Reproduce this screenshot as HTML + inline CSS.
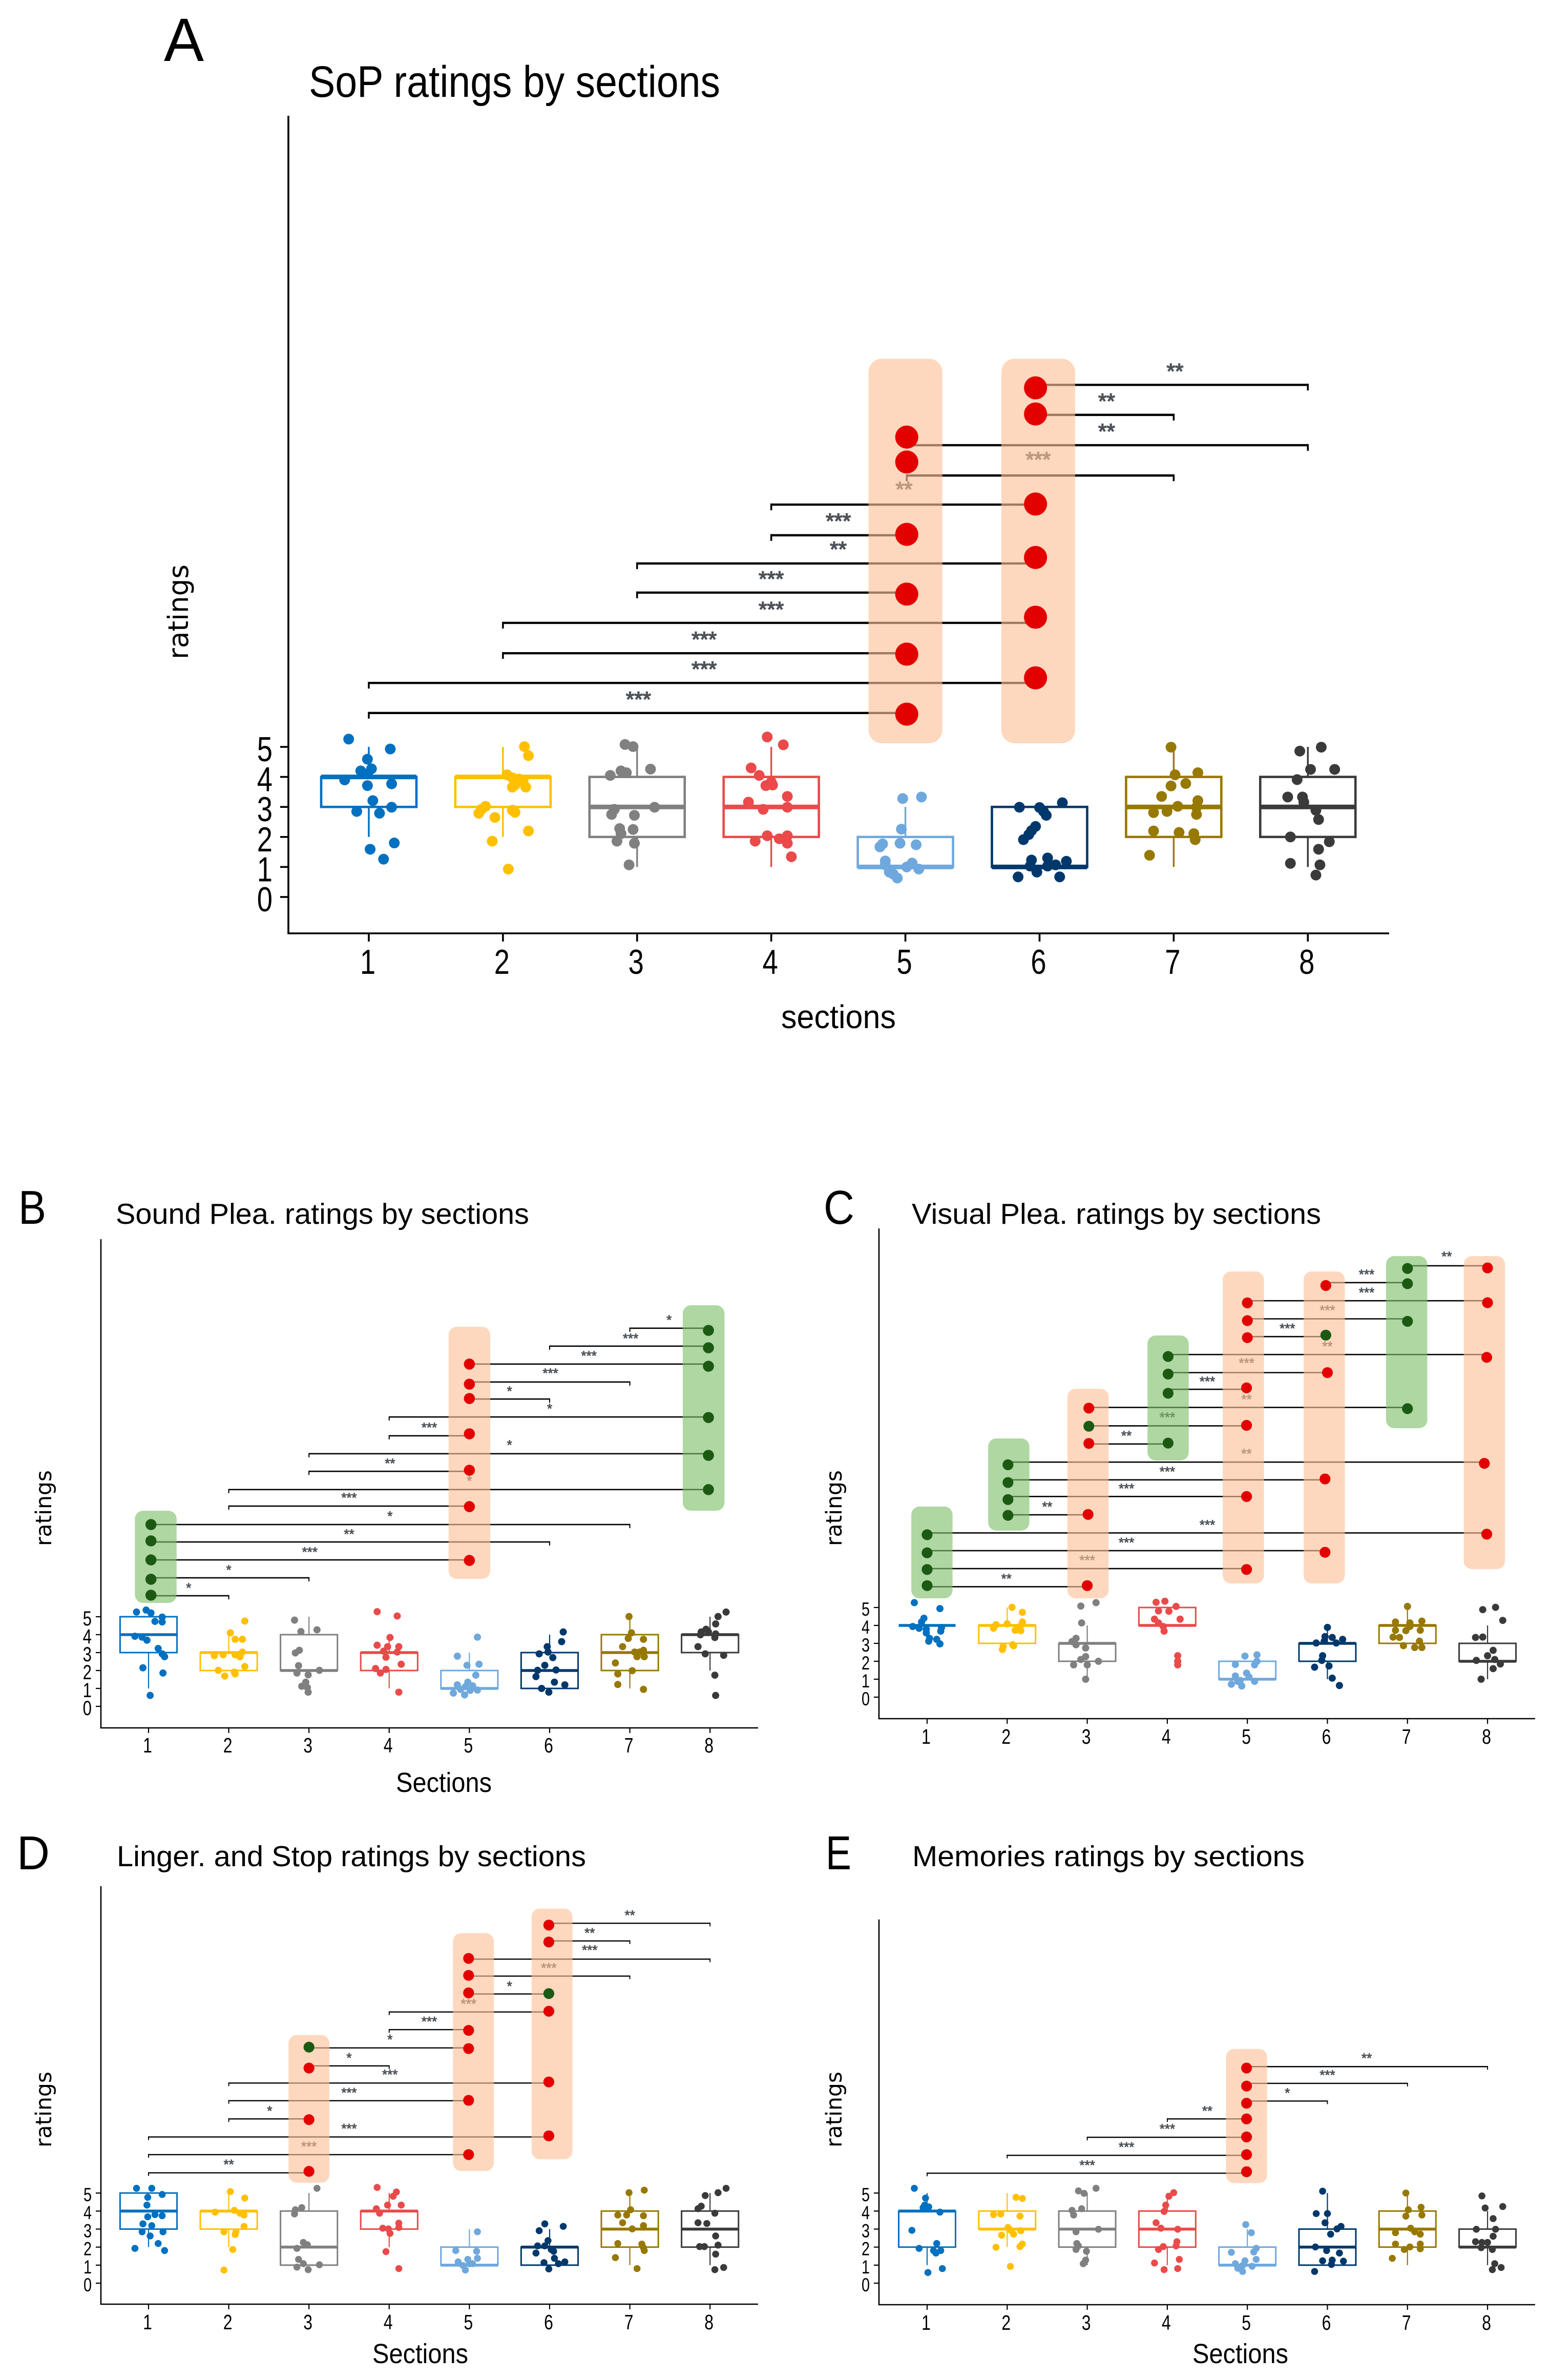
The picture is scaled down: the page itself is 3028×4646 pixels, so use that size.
<!DOCTYPE html>
<html lang="en">
<head>
<meta charset="utf-8">
<title>Ratings by sections</title>
<style>
html,body{margin:0;padding:0;background:#fff;}
svg{display:block;}
text{font-family:"Liberation Sans",sans-serif;fill:#000;}
.dj{font-family:"DejaVu Sans",sans-serif;}
</style>
</head>
<body>
<svg id="figure" xmlns="http://www.w3.org/2000/svg" width="3028" height="4646" viewBox="0 0 3028 4646">
<rect width="3028" height="4646" fill="#fff"/>

<text x="320" y="119" font-size="120" textLength="78" lengthAdjust="spacingAndGlyphs">A</text>
<text x="603" y="189" font-size="86" textLength="803" lengthAdjust="spacingAndGlyphs">SoP ratings by sections</text>
<text class="dj" transform="translate(367,1287) rotate(-90)" font-size="54" textLength="185" lengthAdjust="spacingAndGlyphs">ratings</text>
<text x="1525" y="2007" font-size="64" textLength="224" lengthAdjust="spacingAndGlyphs">sections</text>

<text x="36" y="2389" font-size="93" textLength="54" lengthAdjust="spacingAndGlyphs">B</text>
<text x="226" y="2389" font-size="57" textLength="807" lengthAdjust="spacingAndGlyphs">Sound Plea. ratings by sections</text>
<text class="dj" transform="translate(100,3018) rotate(-90)" font-size="43" textLength="148" lengthAdjust="spacingAndGlyphs">ratings</text>
<text x="773" y="3498" font-size="54" textLength="187" lengthAdjust="spacingAndGlyphs">Sections</text>

<text x="1608" y="2389" font-size="93" textLength="60" lengthAdjust="spacingAndGlyphs">C</text>
<text x="1780" y="2389" font-size="57" textLength="799" lengthAdjust="spacingAndGlyphs">Visual Plea. ratings by sections</text>
<text class="dj" transform="translate(1643,3018) rotate(-90)" font-size="43" textLength="148" lengthAdjust="spacingAndGlyphs">ratings</text>

<text x="33" y="3649" font-size="93" textLength="64" lengthAdjust="spacingAndGlyphs">D</text>
<text x="228" y="3643" font-size="57" textLength="916" lengthAdjust="spacingAndGlyphs">Linger. and Stop ratings by sections</text>
<text class="dj" transform="translate(100,4192) rotate(-90)" font-size="43" textLength="148" lengthAdjust="spacingAndGlyphs">ratings</text>
<text x="727" y="4613" font-size="54" textLength="187" lengthAdjust="spacingAndGlyphs">Sections</text>

<text x="1612" y="3649" font-size="93" textLength="50" lengthAdjust="spacingAndGlyphs">E</text>
<text x="1781" y="3643" font-size="57" textLength="766" lengthAdjust="spacingAndGlyphs">Memories ratings by sections</text>
<text class="dj" transform="translate(1643,4192) rotate(-90)" font-size="43" textLength="148" lengthAdjust="spacingAndGlyphs">ratings</text>
<text x="2328" y="4613" font-size="54" textLength="187" lengthAdjust="spacingAndGlyphs">Sections</text>
</svg>

<script>
/* ---------- shared categories and ticks ---------- */
const sectionLabels = ['1','2','3','4','5','6','7','8'];
const ratingTicks = [0,1,2,3,4,5];

/* Box stats per section: [whisker low, q1, median, q3, whisker high]
   Points per section: [horizontal jitter in section units, rating]
   Brackets: [from section, to section, level, drop at start, drop at end]
   Dots: [section, level, significance direction]
   Bands: [section, top level, bottom level, kind]
   Stars: [section, level, label] */

/* ---------- panel A ---------- */
const panelABoxes = [[2,3,4,4,5],[2,3,4,4,5],[1,2,3,4,5],[1,2,3,4,5],[1,1,1,2,3],[1,1,1,3,3],[1,2,3,4,5],[1,2,3,4,5]];
const panelAPoints = [
[[-.15,5.26],[.16,4.93],[-.01,4.59],[-.06,4.2],[.02,4.27],[-.01,4.1],[-.18,3.9],[-.01,3.71],[.17,3.77],[.03,3.21],[-.09,2.85],[.17,2.99],[.08,2.79],[.19,1.8],[.01,1.59],[.11,1.26]],
[[.16,5.01],[.19,4.71],[.03,4.07],[.07,3.97],[.15,3.87],[.12,3.93],[.09,3.73],[.17,3.66],[.07,3.66],[-.13,3.02],[-.16,2.92],[-.18,2.79],[.07,2.89],[.09,2.82],[-.06,2.65],[.19,2.2],[-.08,1.86],[.04,.93]],
[[-.09,5.08],[-.03,5.01],[.1,4.26],[-.12,4.2],[-.08,4.14],[-.2,4.05],[.13,2.99],[-.17,2.92],[-.19,2.75],[-.02,2.72],[-.13,2.28],[-.03,2.25],[-.12,2.11],[-.15,1.86],[-.02,1.79],[-.06,1.07]],
[[-.03,5.33],[.09,5.07],[-.15,4.3],[-.09,4.05],[0,3.83],[-.04,3.71],[.01,3.73],[.12,3.35],[-.17,3.16],[-.06,2.92],[.12,2.99],[-.12,1.86],[-.03,2.04],[.06,1.94],[.12,2.04],[.12,1.79],[.15,1.34]],
[[-.02,3.28],[.12,3.33],[-.03,2.26],[-.17,1.77],[-.19,1.67],[-.04,1.79],[.08,1.74],[-.15,1.2],[.05,1.13],[.01,1],[.1,.93],[-.12,.83],[-.09,.76],[-.06,.63],[-.15,1.07]],
[[.17,3.14],[-.15,2.99],[0,2.98],[.03,2.85],[.05,2.72],[-.03,2.35],[-.06,2.21],[-.08,2.08],[-.12,1.91],[-.06,1.23],[.06,1.3],[.2,1.19],[.12,1.07],[.06,1.03],[-.07,1.03],[-.02,.83],[-.16,.67],[.15,.67]],
[[-.02,4.99],[.18,4.14],[.01,4.07],[.09,3.78],[-.02,3.7],[-.09,3.35],[.18,3.21],[.03,3.02],[.17,2.99],[-.15,2.81],[-.05,2.85],[.17,2.75],[-.15,2.2],[.04,2.15],[.15,2.11],[.16,1.91],[-.18,1.39]],
[[.1,4.99],[-.06,4.86],[.02,4.25],[.2,4.25],[-.08,3.91],[-.15,3.33],[-.04,3.33],[-.03,3.16],[.06,2.89],[.08,2.58],[-.13,2],[.16,1.84],[.08,1.59],[-.13,1.12],[.09,1.07],[.06,.73]]
];
const panelABrackets = [[5.97,8,17.06,0,1],[5.97,7,16.06,0,1],[5.01,8,15.05,0,1],[5.01,7,14.04,1,1],[4,5.97,13.07,1,0],[4,5.01,12.05,1,0],[3,5.97,11.11,1,0],[3,5.01,10.14,1,0],[2,5.97,9.13,1,0],[2,5.01,8.12,1,0],[1,5.97,7.13,1,0],[1,5.01,6.13,1,0]];
const panelADots = [[5.01,15.32,'r'],[5.01,14.49,'r'],[5.01,12.08,'r'],[5.01,10.09,'r'],[5.01,8.09,'r'],[5.01,6.09,'r'],[5.97,16.96,'r'],[5.97,16.09,'r'],[5.97,13.09,'r'],[5.97,11.31,'r'],[5.97,9.32,'r'],[5.97,7.3,'r']];
const panelABands = [[5,17.93,5.12,'o'],[5.99,17.93,5.12,'o']];
const panelAStars = [[7.01,17.67,'**'],[6.5,16.67,'**'],[6.5,15.67,'**'],[5.99,14.73,'***'],[4.99,13.74,'**'],[4.5,12.68,'***'],[4.5,11.74,'**'],[4,10.75,'***'],[4,9.74,'***'],[3.5,8.74,'***'],[3.5,7.75,'***'],[3.01,6.74,'***']];

/* ---------- panel B ---------- */
const panelBBoxes = [[1,3,4,5,5],[2,2,3,3,4],[2,2,2,4,5],[1,2,3,3,4],[1,1,1,2,3],[1,1,2,3,4],[1,2,3,4,5],[2,3,4,4,5]];
const panelBPoints = [
[[-.15,5.26],[-.03,5.37],[.03,5.21],[.17,4.98],[.08,4.74],[.17,4.71],[-.17,3.91],[-.08,3.86],[-.02,3.69],[.12,3.23],[.17,2.93],[.2,2.77],[-.07,2.15],[.18,1.86],[.02,.61]],
[[.2,4.76],[.02,4.1],[.08,3.74],[.17,3.74],[.17,3.03],[-.18,2.83],[-.07,2.88],[.08,2.88],[.14,2.77],[-.13,2.01],[.07,1.91],[.08,1.81],[.2,2.22],[-.05,1.69]],
[[-.18,4.81],[-.1,4.17],[.1,4.27],[-.12,3.13],[-.17,2.98],[-.13,2.27],[-.01,1.76],[.13,2.01],[-.15,1.86],[-.04,1.35],[-.09,1.12],[-.02,1.05],[-.01,.79]],
[[-.15,5.28],[.1,5.04],[.01,3.84],[-.15,3.41],[-.02,3.33],[.12,3.33],[-.07,3.08],[.1,3.03],[-.04,2.74],[.15,2.35],[-.17,2.11],[-.04,2.06],[-.11,1.86],[.12,.79]],
[[.1,3.86],[-.15,2.8],[-.03,2.29],[.12,2.35],[.08,1.74],[-.15,1.2],[-.02,1.35],[.04,1.15],[-.11,.95],[.1,.91],[-.2,.74],[-.06,.64],[.01,.89],[-.05,1.1]],
[[.17,4.15],[.15,3.61],[-.03,3.33],[-.13,2.93],[-.02,3.03],[.04,2.72],[-.06,2.29],[-.15,2.01],[.08,2.03],[-.17,1.66],[.06,1.35],[.19,1.2],[-.1,1],[-.01,.79]],
[[-.01,5.01],[.02,4.1],[-.02,3.79],[.17,3.74],[-.09,3.33],[.17,3.13],[.06,3.03],[.12,3.03],[.09,2.77],[.18,2.77],[-.18,2.42],[.03,1.99],[-.15,1.81],[-.15,1.22],[.17,.95]],
[[.2,5.26],[.1,5.01],[.07,4.6],[-.05,4.3],[-.11,4.15],[-.02,4.15],[.07,4.04],[-.12,3.99],[.06,3.84],[-.15,3.33],[-.06,2.93],[.17,2.85],[.06,1.74],[.07,.61]]
];
const panelBBrackets = [[7,7.98,21.09,1,0],[6,7.98,20.09,1,0],[5,7.98,19.09,0,0],[5,7,18.09,0,1],[5,6,17.14,0,1],[4,7.98,16.14,1,0],[4,5,15.09,1,0],[3,7.98,14.09,1,0],[3,5,13.11,1,0],[2,7.98,12.09,1,0],[2,5,11.17,1,0],[1.03,7,10.14,0,1],[1.03,6,9.17,0,1],[1.03,5,8.17,0,0],[1.03,3,7.17,0,1],[1.03,2,6.17,0,1]];
const panelBDots = [[1.03,10.14,'g'],[1.03,9.23,'g'],[1.03,8.17,'g'],[1.03,7.09,'g'],[1.03,6.2,'g'],[5,19.09,'r'],[5,17.97,'r'],[5,17.17,'r'],[5,15.2,'r'],[5,13.17,'r'],[5,11.14,'r'],[5,8.14,'r'],[7.98,20.97,'g'],[7.98,20,'g'],[7.98,18.97,'g'],[7.98,16.11,'g'],[7.98,14,'g'],[7.98,12.09,'g']];
const panelBBands = [[1.09,10.91,5.77,'g'],[5,21.17,7.11,'o'],[7.92,22.37,10.91,'g']];
const panelBStars = [[7.49,21.71,'*'],[7.01,20.69,'***'],[6.49,19.71,'***'],[6.01,18.74,'***'],[5.5,17.74,'*'],[6,16.77,'*'],[4.5,15.71,'***'],[5.5,14.74,'*'],[4.01,13.71,'**'],[5,12.74,'*'],[3.5,11.8,'***'],[4.01,10.77,'*'],[3.5,9.77,'**'],[3.01,8.77,'***'],[2,7.77,'*'],[1.5,6.77,'*']];

/* ---------- panel C ---------- */
const panelCBoxes = [[4,4,4,4,4],[3,3,4,4,5],[1,2,3,3,4],[4,4,4,5,5],[1,1,1,2,2],[1,2,3,3,4],[3,3,4,4,5],[1,2,2,3,4]];
const panelCPoints = [
[[-.16,5.27],[.16,4.94],[-.04,4.4],[-.07,4.19],[-.18,3.94],[-.1,3.84],[-.01,3.79],[.18,3.89],[.17,3.68],[-.01,3.58],[.03,3.28],[.12,3.22],[.16,2.97],[.02,3.12]],
[[.06,5.01],[.19,4.73],[.19,4.19],[-.14,4.04],[0,4.09],[.16,3.94],[-.17,3.84],[.1,3.73],[.17,3.71],[.07,2.92],[-.05,2.82],[-.06,2.66],[.08,2.87]],
[[.11,5.27],[-.08,5.08],[-.07,4.14],[-.14,3.28],[-.19,3.1],[-.14,2.92],[-.02,2.74],[-.02,2.26],[-.08,2.1],[-.17,1.8],[.14,2],[0,1.8],[-.02,1]],
[[-.14,5.29],[-.03,5.35],[.11,5.06],[-.11,4.81],[.02,4.79],[.16,4.35],[-.16,4.35],[-.11,4.14],[-.05,3.94],[-.04,3.68],[.13,2.31],[.13,2],[.13,1.8]],
[[-.03,2.29],[.12,2.36],[-.15,1.82],[.09,1.8],[.12,2],[-.01,1.34],[-.15,1.18],[.02,1.13],[-.09,.93],[.09,.88],[-.2,.72],[-.07,.62],[-.12,.88]],
[[0,3.89],[-.03,3.38],[.06,3.33],[-.14,3.02],[.19,3.22],[.11,3.02],[-.04,3.12],[-.06,2.31],[-.07,2.05],[-.16,1.67],[.02,1.74],[.06,1.06],[.15,.65]],
[[0,5.06],[-.15,4.19],[.18,4.24],[.03,4.14],[-.15,3.73],[-.02,3.71],[.16,3.73],[-.18,3.35],[-.1,3.33],[-.05,2.87],[.15,3.12],[.09,2.77],[.18,2.77],[.03,3.94]],
[[.1,5.01],[-.06,4.88],[.19,4.28],[-.15,3.33],[-.06,3.35],[.07,2.61],[0,2.31],[-.14,2.05],[.09,2.1],[.16,1.85],[.07,1.59],[-.08,1]]
];
const panelCBrackets = [[7,8,24.06,0,0],[5.98,7,23.12,0,0],[5,8,22.11,0,0],[5,7,21.1,0,0],[5,5.98,20.11,0,0],[4.01,7.99,19.11,0,0],[4.01,6,18.1,0,0],[4.01,4.99,17.17,0,0],[3.02,7,16.16,0,0],[3.02,4.99,15.13,0,0],[3.02,4.01,14.12,0,0],[2.01,7.96,13.11,0,0],[2.01,5.97,12.12,0,0],[2.01,4.99,11.19,0,0],[2.01,3.01,10.17,0,0],[1,7.99,9.16,0,0],[1,5.97,8.17,0,0],[1,4.99,7.17,0,0],[1,3,6.16,0,0]];
const panelCDots = [[1,9.06,'g'],[1,8.05,'g'],[1,7.12,'g'],[1,6.22,'g'],[2.01,12.96,'g'],[2.01,11.97,'g'],[2.01,11.02,'g'],[2.01,10.14,'g'],[3.02,16.12,'r'],[3.02,15.11,'g'],[3.02,14.15,'r'],[3.01,10.19,'r'],[3,6.22,'r'],[4.01,19,'g'],[4.01,18.02,'g'],[4.01,16.95,'g'],[4.01,14.17,'g'],[5,21.99,'r'],[5,21,'r'],[5,20.05,'r'],[4.99,17.25,'r'],[4.99,15.16,'r'],[4.99,11.19,'r'],[4.99,7.12,'r'],[5.98,22.96,'r'],[5.98,20.19,'g'],[6,18.1,'r'],[5.97,12.17,'r'],[5.97,8.08,'r'],[7,23.91,'g'],[7,23.06,'g'],[7,20.96,'g'],[7,16.09,'g'],[8,23.94,'r'],[8,22,'r'],[7.99,18.95,'r'],[7.96,13.04,'r'],[7.99,9.09,'r']];
const panelCBands = [[1.06,10.63,5.51,'g'],[2.02,14.43,9.29,'g'],[3.01,17.2,5.51,'o'],[4.01,20.17,13.2,'g'],[4.95,23.74,6.34,'o'],[5.96,23.74,6.34,'o'],[6.99,24.6,15,'g'],[7.96,24.6,7.14,'o']];
const panelCStars = [[7.49,24.74,'**'],[6.49,23.74,'***'],[6.49,22.73,'***'],[6,21.74,'***'],[5.5,20.73,'***'],[6,19.73,'**'],[4.99,18.8,'***'],[4.5,17.77,'***'],[4.99,16.78,'**'],[4,15.78,'***'],[3.49,14.74,'**'],[4.99,13.75,'**'],[4,12.74,'***'],[3.49,11.8,'***'],[2.5,10.79,'**'],[4.5,9.78,'***'],[3.49,8.79,'***'],[3,7.8,'***'],[1.99,6.78,'**']];

/* ---------- panel D ---------- */
const panelDBoxes = [[2,3,4,5,5],[2,3,4,4,5],[1,1,2,4,5],[2,3,4,4,5],[1,1,1,2,3],[1,1,2,2,3],[1,2,3,4,5],[1,2,3,4,5]];
const panelDPoints = [
[[-.15,5.26],[.04,5.26],[.17,4.92],[-.01,4.76],[-.02,4.33],[-.01,3.68],[.08,3.8],[.17,3.74],[-.07,3.29],[.04,3.19],[-.08,2.85],[.18,2.85],[.02,2.62],[.12,2.2],[-.17,1.93],[.2,1.81]],
[[.02,5.08],[.2,4.72],[.07,4.04],[-.17,3.94],[.14,3.88],[.19,3.78],[.19,3.15],[-.06,2.85],[.09,2.85],[.08,2.7],[.05,1.87],[-.06,.73]],
[[.1,5.26],[-.09,4.19],[-.17,4.07],[-.18,3.84],[-.07,2.26],[-.02,2.13],[-.15,1.93],[-.13,1.32],[-.07,1.08],[.13,1.02],[-.15,.89],[-.01,.75]],
[[-.15,5.31],[.09,5.06],[.05,4.82],[-.02,4.33],[.15,4.33],[-.16,4.13],[-.12,3.88],[.12,3.33],[.12,3.09],[-.08,3.05],[-.01,3.01],[.01,2.76],[-.04,1.75],[.12,.81]],
[[.1,2.85],[-.17,1.81],[.09,1.77],[-.02,1.32],[-.14,1.18],[.1,1.38],[-.08,.98],[.04,1.08],[-.05,.73],[0,1.08]],
[[-.06,3.29],[.17,3.15],[-.13,2.91],[-.02,2.36],[-.15,2.07],[-.06,2.07],[.02,1.87],[-.17,1.67],[.05,1.77],[.06,1.38],[.19,1.18],[-.07,1.14],[.11,1.08],[-.01,.79]],
[[-.01,5.02],[.18,5.16],[.01,4.07],[-.15,3.78],[-.04,3.78],[.17,3.74],[-.09,3.35],[.17,3.19],[.03,3.01],[-.15,2.2],[.15,2.17],[.17,1.97],[.18,1.81],[-.18,1.42],[.09,.81]],
[[.2,5.26],[.1,5.02],[-.06,4.86],[-.11,4.27],[-.15,4.13],[.06,3.88],[-.15,3.35],[-.04,3.31],[.07,2.62],[-.13,2.03],[-.07,2.03],[.1,2.11],[.07,1.61],[.06,.75],[.17,.87]]
];
const panelDBrackets = [[5.99,8,19.96,0,1],[5.99,7,18.98,0,1],[4.99,8,17.97,0,1],[4.99,7,17.03,0,1],[4.99,5.99,16.04,0,0],[4,5.99,15.04,1,0],[4,4.99,14.06,1,0],[3,4.99,13.05,0,0],[3,4,12.05,0,1],[2,5.99,11.1,1,0],[2,4.99,10.12,1,0],[2,3,9.11,1,0],[1,5.99,8.11,1,0],[1,4.99,7.13,1,0],[1,3,6.12,1,0]];
const panelDDots = [[3,13.09,'g'],[3,11.93,'r'],[3,9.07,'r'],[3,6.2,'r'],[4.99,18.01,'r'],[4.99,17.07,'r'],[4.99,16.1,'r'],[4.99,14.02,'r'],[4.99,13.01,'r'],[4.99,10.14,'r'],[4.99,7.13,'r'],[5.99,19.86,'r'],[5.99,18.92,'r'],[5.99,16.06,'g'],[5.99,15.08,'r'],[5.99,11.16,'r'],[5.99,8.17,'r']];
const panelDBands = [[3,13.76,5.57,'o'],[5.05,19.41,6.22,'o'],[6.03,20.77,6.87,'o']];
const panelDStars = [[7,20.57,'**'],[6.5,19.59,'**'],[6.5,18.64,'***'],[5.99,17.64,'***'],[5.5,16.63,'*'],[4.99,15.65,'***'],[4.5,14.67,'***'],[4.01,13.68,'*'],[3.5,12.66,'*'],[4.01,11.73,'***'],[3.5,10.73,'***'],[2.51,9.72,'*'],[3.5,8.74,'***'],[3,7.74,'***'],[2,6.75,'**']];

/* ---------- panel E ---------- */
const panelEBoxes = [[1,2,4,4,5],[2,3,3,4,5],[1,2,3,4,5],[1,2,3,4,5],[1,1,1,2,3],[1,1,2,3,5],[1,2,3,4,5],[1,2,2,3,4]];
const panelEPoints = [
[[-.16,5.26],[-.02,4.72],[-.03,4.33],[-.05,4.19],[.02,4.23],[.16,3.94],[-.19,2.93],[.12,2.2],[-.1,1.93],[.08,1.81],[.17,1.81],[.11,1.67],[.19,.81],[.01,.59]],
[[.11,4.76],[.19,4.7],[-.17,3.8],[-.08,3.84],[.16,3.72],[.01,3.09],[.17,2.91],[.04,2.95],[.08,2.72],[-.07,2.66],[-.14,1.99],[.19,2.17],[.16,2.03],[.04,.93]],
[[.11,5.26],[-.11,5.12],[-.04,4.98],[-.07,4.13],[-.19,4.04],[-.17,3.78],[.14,2.99],[-.14,2.85],[-.13,2.2],[-.11,2.07],[-.14,1.87],[-.01,1.77],[-.02,1.28],[-.05,1.08]],
[[.08,5.02],[.02,4.82],[-.02,4.33],[-.04,3.98],[-.14,3.35],[-.08,3.05],[.13,2.99],[.12,2.3],[-.05,2.03],[-.11,1.87],[.11,2.07],[.15,1.32],[-.16,1.12],[-.04,.75],[.13,.81]],
[[-.02,3.25],[.05,2.8],[.11,1.93],[.08,1.73],[-.2,1.71],[.11,1.32],[-.03,1.24],[-.15,1.08],[.06,.94],[-.06,.98],[-.12,.83],[-.06,.65]],
[[-.06,5.1],[-.14,3.86],[0,3.86],[-.03,3.35],[.17,3.15],[.12,3.01],[.04,2.72],[-.15,2.01],[-.01,1.81],[.15,1.67],[-.06,1.24],[.06,1.28],[.2,1.22],[.05,1.04],[-.16,.65]],
[[-.02,5],[.01,4.07],[.17,4.21],[.18,3.78],[-.02,3.72],[.04,3.05],[-.15,2.8],[.09,2.85],[.16,2.72],[-.15,2.17],[.16,2.17],[.03,2.01],[-.04,1.87],[.16,1.91],[-.19,1.38]],
[[-.07,4.84],[-.03,4.17],[.19,4.25],[.07,3.58],[-.14,2.99],[.1,2.99],[.07,2.6],[-.15,2.3],[-.07,2.26],[0,2.26],[-.08,1.97],[.06,1.87],[.09,1.08],[.17,.87],[.06,.75]]
];
const panelEBrackets = [[4.99,8,12.01,0,1],[4.99,7,11.08,0,1],[4.99,6,10.1,0,1],[4,4.99,9.11,1,0],[3,4.99,8.09,1,0],[2,4.99,7.09,1,0],[1,4.99,6.1,1,0]];
const panelEDots = [[4.99,11.93,'r'],[4.99,10.93,'r'],[4.99,9.98,'r'],[4.99,9.11,'r'],[4.99,8.11,'r'],[4.99,7.13,'r'],[4.99,6.18,'r']];
const panelEBands = [[4.99,12.99,5.55,'o']];
const panelEStars = [[6.49,12.64,'**'],[6,11.71,'***'],[5.5,10.71,'*'],[4.5,9.72,'**'],[4,8.72,'***'],[3.49,7.72,'***'],[3,6.71,'***']];

/* ---------- styling and layout ---------- */
const sectionColors = ['#0070c0','#ffc000','#808080','#ea4a4a','#6fa8dc','#00386c','#977800','#3a3a3a'];
const dotColors = {r:'#e30000', g:'#1c5a14'};
const bandColors = {o:'#fec298', g:'#7fc06a'};

const panels = [
  {id:'a', boxes:panelABoxes, points:panelAPoints, brackets:panelABrackets, dots:panelADots, bands:panelABands, stars:panelAStars,
   x1:720, dx:261.9, y0:1751, unit:58.6, left:563, top:226, bottom:1822, right:2712,
   axisW:3.6, tickLen:16, tickW:3.6, bracketW:4.4, dropLen:11, boxW:4.6, medW:9, whiskW:3.4, ptR:10.5, dotR:22.5, bandW:.55, bandR:26,
   starSize:42, starStroke:1.6, yFont:68, xFont:68, yLabelRight:532, yLabelOff:28, xBase:1901, labelScale:.8},
  {id:'b', boxes:panelBBoxes, points:panelBPoints, brackets:panelBBrackets, dots:panelBDots, bands:panelBBands, stars:panelBStars,
   x1:290, dx:156.6, y0:3331, unit:35, left:197, top:2419, bottom:3373, right:1480,
   axisW:2.6, tickLen:10, tickW:2.2, bracketW:2.6, dropLen:7, boxW:3, medW:5.6, whiskW:2.2, ptR:7, dotR:10.8, bandW:.52, bandR:16,
   starSize:26, starStroke:.9, yFont:40, xFont:41, yLabelRight:179, yLabelOff:17, xBase:3421, labelScale:.78},
  {id:'c', boxes:panelCBoxes, points:panelCPoints, brackets:panelCBrackets, dots:panelCDots, bands:panelCBands, stars:panelCStars,
   x1:1810, dx:156.3, y0:3313, unit:35, left:1716, top:2398, bottom:3355, right:2997,
   axisW:2.6, tickLen:10, tickW:2.2, bracketW:2.6, dropLen:7, boxW:3, medW:5.6, whiskW:2.2, ptR:7, dotR:10.6, bandW:.515, bandR:16,
   starSize:26, starStroke:.9, yFont:37, xFont:41, yLabelRight:1698, yLabelOff:16, xBase:3404, labelScale:.78},
  {id:'d', boxes:panelDBoxes, points:panelDPoints, brackets:panelDBrackets, dots:panelDDots, bands:panelDBands, stars:panelDStars,
   x1:290, dx:156.6, y0:4457, unit:35.2, left:197, top:3682, bottom:4498, right:1480,
   axisW:2.6, tickLen:10, tickW:2.2, bracketW:2.4, dropLen:6, boxW:3, medW:5.6, whiskW:2.2, ptR:6.8, dotR:10.6, bandW:.51, bandR:16,
   starSize:26, starStroke:.9, yFont:37, xFont:41, yLabelRight:179, yLabelOff:16, xBase:4547, labelScale:.78},
  {id:'e', boxes:panelEBoxes, points:panelEPoints, brackets:panelEBrackets, dots:panelEDots, bands:panelEBands, stars:panelEStars,
   x1:1810, dx:156.3, y0:4457, unit:35.2, left:1716, top:3747, bottom:4499, right:2997,
   axisW:2.6, tickLen:10, tickW:2.2, bracketW:2.4, dropLen:6, boxW:3, medW:5.6, whiskW:2.2, ptR:6.8, dotR:10.6, bandW:.515, bandR:16,
   starSize:26, starStroke:.9, yFont:37, xFont:41, yLabelRight:1698, yLabelOff:16, xBase:4548, labelScale:.78}
];

const SVGNS = 'http://www.w3.org/2000/svg';
const figure = document.getElementById('figure');

function make(parent, tag, attrs) {
  const node = document.createElementNS(SVGNS, tag);
  for (const key in attrs) node.setAttribute(key, attrs[key]);
  parent.appendChild(node);
  return node;
}
function axisX(p, section) { return p.x1 + (section - 1) * p.dx; }
function axisY(p, rating) { return p.y0 - rating * p.unit; }

function drawLine(parent, x1, y1, x2, y2, stroke, width) {
  return make(parent, 'line', {x1:x1, y1:y1, x2:x2, y2:y2, stroke:stroke, 'stroke-width':width});
}

function drawPanel(p) {
  const g = make(figure, 'g', {});
  
  

  /* boxes and jittered points */
  p.boxes.forEach(function (stats, i) {
    const cx = axisX(p, i + 1);
    const half = p.dx * .355;
    const color = sectionColors[i];
    const box = make(g, 'rect', {x:cx - half, y:axisY(p, stats[3]), width:half * 2, height:axisY(p, stats[1]) - axisY(p, stats[3]), fill:'none', stroke:color, 'stroke-width':p.boxW});
    
    
    const median = drawLine(g, cx - half, axisY(p, stats[2]), cx + half, axisY(p, stats[2]), color, p.medW);
    
    
    const whiskerLow = drawLine(g, cx, axisY(p, stats[1]), cx, axisY(p, stats[0]), color, p.whiskW);
    
    
    const whiskerHigh = drawLine(g, cx, axisY(p, stats[3]), cx, axisY(p, stats[4]), color, p.whiskW);
    
    
  });
  p.points.forEach(function (group, i) {
    group.forEach(function (pt) {
      const c = make(g, 'circle', {cx:axisX(p, i + 1 + pt[0]), cy:axisY(p, pt[1]), r:p.ptR, fill:sectionColors[i]});
      
      
    });
  });

  /* significance brackets */
  p.brackets.forEach(function (b) {
    const yy = axisY(p, b[2]);
    const xa = axisX(p, b[0]);
    const xb = axisX(p, b[1]);
    const line = drawLine(g, xa, yy, xb, yy, '#000', p.bracketW);
    
    
    if (b[3]) {
      const dropA = drawLine(g, xa, yy - p.bracketW / 2, xa, yy + p.dropLen, '#000', p.bracketW * .8);
      
      
    }
    if (b[4]) {
      const dropB = drawLine(g, xb, yy - p.bracketW / 2, xb, yy + p.dropLen, '#000', p.bracketW * .8);
      
      
    }
  });
  p.stars.forEach(function (s) {
    const t = make(g, 'text', {x:axisX(p, s[0]), y:axisY(p, s[1]) + p.starSize * .56, 'font-size':p.starSize, 'text-anchor':'middle', stroke:'#4d5358', 'stroke-width':p.starStroke, style:'fill:#4d5358'});
    t.textContent = s[2];
    
    
  });

  /* highlight bands sit over lines and stars */
  p.bands.forEach(function (b) {
    const w = p.dx * p.bandW;
    const r = make(g, 'rect', {x:axisX(p, b[0]) - w / 2, y:axisY(p, b[1]), width:w, height:axisY(p, b[2]) - axisY(p, b[1]), rx:p.bandR, ry:p.bandR, fill:bandColors[b[3]], 'fill-opacity':.63});
    
    
  });
  p.dots.forEach(function (d) {
    const c = make(g, 'circle', {cx:axisX(p, d[0]), cy:axisY(p, d[1]), r:p.dotR, fill:dotColors[d[2]]});
    
    
  });

  /* axes */
  const yAxis = drawLine(g, p.left, p.top, p.left, p.bottom, '#000', p.axisW);
  
  
  const xAxis = drawLine(g, p.left - p.axisW / 2, p.bottom, p.right, p.bottom, '#000', p.axisW);
  
  

  ratingTicks.forEach(function (v) {
    const yy = axisY(p, v);
    const tick = drawLine(g, p.left - p.tickLen, yy, p.left, yy, '#000', p.tickW);
    
    
    const label = make(g, 'text', {transform:'translate(' + p.yLabelRight + ',' + (yy + p.yLabelOff) + ') scale(' + p.labelScale + ',1)', 'font-size':p.yFont, 'text-anchor':'end'});
    label.textContent = String(v);
    
    
  });
  sectionLabels.forEach(function (name, i) {
    const xx = axisX(p, i + 1);
    const tick = drawLine(g, xx, p.bottom, xx, p.bottom + p.tickLen, '#000', p.tickW);
    
    
    const label = make(g, 'text', {transform:'translate(' + (xx - 2) + ',' + p.xBase + ') scale(' + p.labelScale + ',1)', 'font-size':p.xFont, 'text-anchor':'middle'});
    label.textContent = name;
    
    
  });
}

panels.forEach(drawPanel);
</script>
</body>
</html>
